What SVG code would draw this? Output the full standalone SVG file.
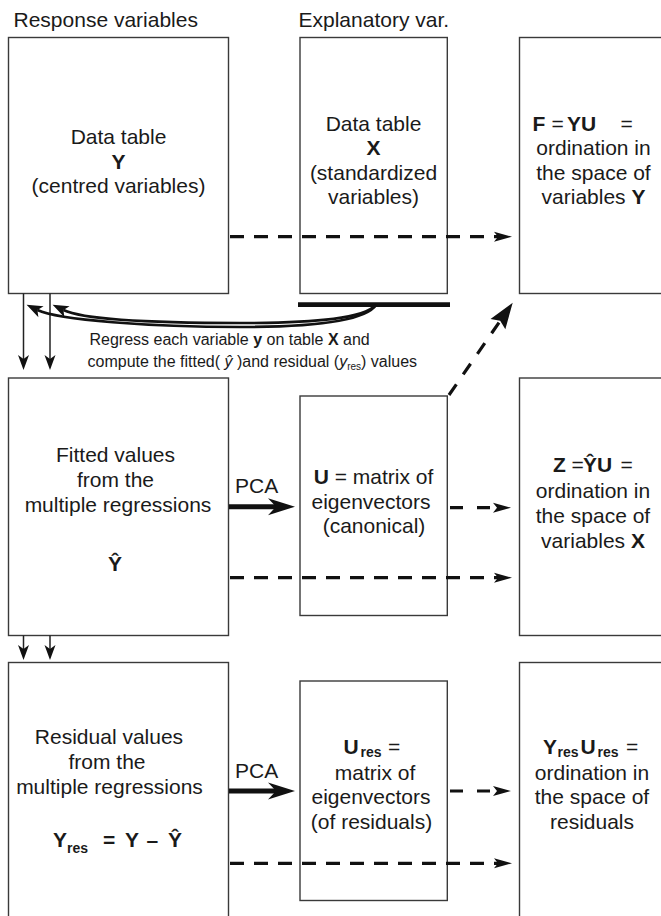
<svg xmlns="http://www.w3.org/2000/svg" width="661" height="916" viewBox="0 0 661 916">
<style>
.box{fill:none;stroke:#3a3a3a;stroke-width:1.4}
.t{font-family:"Liberation Sans",Arial,Helvetica,sans-serif;font-size:21px;fill:#1a1a1a}
.c{text-anchor:middle}
.b{font-weight:bold}
.sub{font-size:14px;font-weight:bold}
.s{font-family:"Liberation Sans",Arial,Helvetica,sans-serif;font-size:16px;fill:#1a1a1a}
.dash{fill:none;stroke:#111;stroke-width:3.2;stroke-dasharray:14 10}
.thin{fill:none;stroke:#222;stroke-width:1.5}
.curve{fill:none;stroke:#111;stroke-width:2.6}
.thick{fill:none;stroke:#111;stroke-width:5}
</style>
<defs>
<marker id="mSmall" markerUnits="userSpaceOnUse" markerWidth="16" markerHeight="12" refX="4" refY="5.5" orient="auto" overflow="visible">
<path d="M0,0 L15,5.5 L0,11 L4,5.5 Z" fill="#111"/>
</marker>
<marker id="mCurve" markerUnits="userSpaceOnUse" markerWidth="18" markerHeight="14" refX="4" refY="6" orient="auto" overflow="visible">
<path d="M0,0 L16,6 L0,12 L4,6 Z" fill="#111"/>
</marker>
<marker id="mDash" markerUnits="userSpaceOnUse" markerWidth="19" markerHeight="11" refX="4" refY="5" orient="auto" overflow="visible">
<path d="M0,0 L18,5 L0,10 L4,5 Z" fill="#111"/>
</marker>
<marker id="mBig" markerUnits="userSpaceOnUse" markerWidth="28" markerHeight="18" refX="8" refY="8.5" orient="auto" overflow="visible">
<path d="M0,0 L27,8.5 L0,17 L8,8.5 Z" fill="#111"/>
</marker>
<marker id="mDiag" markerUnits="userSpaceOnUse" markerWidth="27" markerHeight="19" refX="4" refY="9" orient="auto" overflow="visible">
<path d="M0,0 L26,9 L0,18 L4,9 Z" fill="#111"/>
</marker>
</defs>
<rect x="0" y="0" width="661" height="916" fill="#fff"/>

<text class="t" x="13.5" y="27">Response variables</text>
<text class="t" x="298.5" y="27">Explanatory var.</text>

<g id="node-Y">
<rect class="box" x="8.5" y="37.5" width="220" height="256"/>
<text class="t c" x="118.5" y="144">Data table</text>
<text class="t c b" x="118.5" y="168.5">Y</text>
<text class="t c" x="118.5" y="193">(centred variables)</text>
</g>

<g id="node-X">
<rect class="box" x="300" y="37.5" width="147.3" height="256"/>
<text class="t c" x="373.5" y="131">Data table</text>
<text class="t c b" x="373.5" y="155">X</text>
<text class="t c" x="373.5" y="180">(standardized</text>
<text class="t c" x="373.5" y="204">variables)</text>
</g>

<g id="node-F">
<rect class="box" x="519.5" y="37.5" width="200" height="256"/>
<text class="t" y="131"><tspan class="b" x="532.5">F</tspan><tspan x="551.5">=</tspan><tspan class="b" x="567">YU</tspan><tspan x="620.5">=</tspan></text>
<text class="t c" x="593.5" y="155">ordination in</text>
<text class="t c" x="593.5" y="180">the space of</text>
<text class="t c" x="593.5" y="204">variables <tspan class="b">Y</tspan></text>
</g>

<g id="node-Yhat">
<rect class="box" x="8.5" y="378" width="220" height="257.5"/>
<text class="t c" x="115.5" y="462">Fitted values</text>
<text class="t c" x="115.5" y="487">from the</text>
<text class="t c" x="118" y="512">multiple regressions</text>
<text class="t c b" x="115" y="571">Ŷ</text>
</g>

<g id="node-U">
<rect class="box" x="300" y="396" width="147.3" height="219.5"/>
<text class="t c" x="373.5" y="484"><tspan class="b">U</tspan> = matrix of</text>
<text class="t c" x="371" y="508.5">eigenvectors</text>
<text class="t c" x="374" y="533">(canonical)</text>
</g>

<g id="node-Z">
<rect class="box" x="519.5" y="378" width="200" height="257.5"/>
<text class="t" y="472"><tspan class="b" x="553">Z</tspan><tspan x="571.5">=</tspan><tspan class="b" x="583">ŶU</tspan><tspan x="620.5">=</tspan></text>
<text class="t c" x="593" y="498">ordination in</text>
<text class="t c" x="593" y="523">the space of</text>
<text class="t c" x="593" y="548">variables <tspan class="b">X</tspan></text>
</g>

<g id="node-Yres">
<rect class="box" x="8.5" y="662.5" width="220" height="300"/>
<text class="t c" x="109" y="743.5">Residual values</text>
<text class="t c" x="107" y="768.5">from the</text>
<text class="t c" x="109.5" y="793.5">multiple regressions</text>
<text class="t b"><tspan x="53" y="847">Y</tspan><tspan class="sub" x="67" y="853">res</tspan><tspan x="103" y="847">=</tspan><tspan x="125" y="847">Y</tspan><tspan x="146.5" y="847">–</tspan><tspan x="168" y="847">Ŷ</tspan></text>
</g>

<g id="node-Ures">
<rect class="box" x="300" y="681" width="147.3" height="219.5"/>
<text class="t"><tspan class="b" x="343.5" y="753.5">U</tspan><tspan class="sub" x="360.5" y="757">res</tspan><tspan x="388" y="753.5">=</tspan></text>
<text class="t c" x="375" y="779.5">matrix of</text>
<text class="t c" x="371" y="804">eigenvectors</text>
<text class="t c" x="371.5" y="828.5">(of residuals)</text>
</g>

<g id="node-ordres">
<rect class="box" x="519.5" y="662.5" width="200" height="300"/>
<text class="t"><tspan class="b" x="543" y="753.5">Y</tspan><tspan class="sub" x="557.5" y="757">res</tspan><tspan class="b" x="580.5" y="753.5">U</tspan><tspan class="sub" x="597.5" y="757">res</tspan><tspan x="626" y="753.5">=</tspan></text>
<text class="t c" x="592" y="780">ordination in</text>
<text class="t c" x="592" y="804">the space of</text>
<text class="t c" x="592" y="828.5">residuals</text>
</g>

<g id="connectors">
<line class="dash" x1="230" y1="236.7" x2="498" y2="236.7" marker-end="url(#mDash)"/>
<line class="dash" x1="230" y1="577.7" x2="498" y2="577.7" marker-end="url(#mDash)"/>
<line class="dash" x1="230" y1="863.3" x2="498" y2="863.3" marker-end="url(#mDash)"/>
<line class="dash" style="stroke-dasharray:13 14" x1="450" y1="507.7" x2="497" y2="507.7" marker-end="url(#mDash)"/>
<line class="dash" style="stroke-dasharray:13 14" x1="450" y1="791" x2="497" y2="791" marker-end="url(#mDash)"/>
<line class="dash" style="stroke-dasharray:13 12" x1="449" y1="395" x2="500.2" y2="320.8" marker-end="url(#mDiag)"/>
<line class="thick" x1="229" y1="506.7" x2="276" y2="506.7" marker-end="url(#mBig)"/>
<line class="thick" x1="229" y1="791" x2="276" y2="791" marker-end="url(#mBig)"/>
<line class="thin" x1="23.5" y1="293.5" x2="23.5" y2="359" marker-end="url(#mSmall)"/>
<line class="thin" x1="50" y1="293.5" x2="50" y2="359" marker-end="url(#mSmall)"/>
<line class="thin" x1="23.5" y1="635.5" x2="23.5" y2="649" marker-end="url(#mSmall)"/>
<line class="thin" x1="50" y1="635.5" x2="50" y2="649" marker-end="url(#mSmall)"/>
<line x1="298" y1="304.7" x2="450" y2="304.7" stroke="#111" stroke-width="4.8"/>
<path class="curve" d="M376,305 C366,320 320,327 240,327 C150,327 58,320 37.4,310" marker-end="url(#mCurve)"/>
<path class="curve" d="M376,305 C364,318 320,323 240,323 C165,323 84,320 63.4,310" marker-end="url(#mCurve)"/>
<text class="t" x="235" y="493.3">PCA</text>
<text class="t" x="235" y="778.3">PCA</text>
</g>

<text class="s" x="89.5" y="345">Regress each variable <tspan font-weight="bold">y</tspan> on table <tspan font-weight="bold">X</tspan> and</text>
<text class="s" x="87.5" y="367.3" xml:space="preserve">compute the fitted( <tspan font-style="italic">ŷ</tspan> )and residual (<tspan font-style="italic">y</tspan><tspan font-size="10" dy="3">res</tspan><tspan dy="-3">) values</tspan></text>
</svg>
